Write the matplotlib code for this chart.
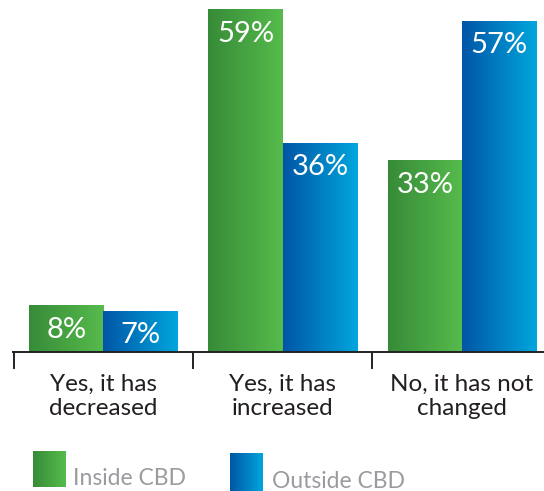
import numpy as np
import matplotlib
matplotlib.use("Agg")
import matplotlib.pyplot as plt
from matplotlib.colors import LinearSegmentedColormap

plt.rcParams['font.family'] = ['Lato', 'DejaVu Sans']

# Data
categories = ["Yes, it has\ndecreased", "Yes, it has\nincreased", "No, it has not\nchanged"]
inside_cbd = [8, 59, 33]
outside_cbd = [7, 36, 57]
series_names = ["Inside CBD", "Outside CBD"]

green_cmap = LinearSegmentedColormap.from_list("grn", ["#378b38", "#56bb4c"])
blue_cmap = LinearSegmentedColormap.from_list("blu", ["#0056a6", "#00a6de"])

fig = plt.figure(figsize=(5.44, 4.91), dpi=100)
ax = fig.add_axes([0, 139 / 491, 1, 352 / 491])

x = np.arange(len(categories))
w = 0.4156
grad = np.linspace(0, 1, 256).reshape(1, -1)


def gradient_bars(xs, vals, cmap):
    bars = ax.bar(xs, vals, width=w, align='edge', color='none')
    for b, v in zip(bars, vals):
        x0, x1 = b.get_x(), b.get_x() + b.get_width()
        ax.imshow(grad, cmap=cmap, extent=(x0, x1, 0, v), aspect='auto',
                  interpolation='bicubic', zorder=2)
        ax.annotate(f"{v}%", (x0 + w / 2, v), xytext=(0, -24),
                    textcoords='offset pixels', ha='center', va='center',
                    color='white', fontsize=21, zorder=3)
    return bars


gradient_bars(x - w, inside_cbd, green_cmap)
gradient_bars(x, outside_cbd, blue_cmap)

ax.set_xlim(-0.577, 2.457)
ax.set_ylim(0, 60.69)
ax.axis('off')

# baseline with group separators
ax.plot([-0.51, 2.457], [0, 0], color='#222222', lw=1.4, clip_on=False,
        solid_capstyle='butt')
for b in [-0.5, 0.5, 1.5]:
    ax.plot([b, b], [0, -16 / 5.8], color='#222222', lw=1.4, clip_on=False)

for xi, lab in zip(x, categories):
    ax.text(xi, -3.7, lab, ha='center', va='top', fontsize=17.5,
            color='#231f20', linespacing=1.22)

# legend
lax = fig.add_axes([0, 0, 1, 1], zorder=-1)
lax.imshow(grad, cmap=green_cmap, extent=(33, 66, 487, 451), aspect='auto')
lax.imshow(grad, cmap=blue_cmap, extent=(230, 263, 495, 453), aspect='auto')
lax.set_xlim(0, 544)
lax.set_ylim(491, 0)
lax.axis('off')
lax.text(73, 485, series_names[0], fontsize=16.5, color='#9a9b9f', va='baseline')
lax.text(272, 488, series_names[1], fontsize=16.5, color='#9a9b9f', va='baseline')

fig.savefig("out.png", dpi=100)
